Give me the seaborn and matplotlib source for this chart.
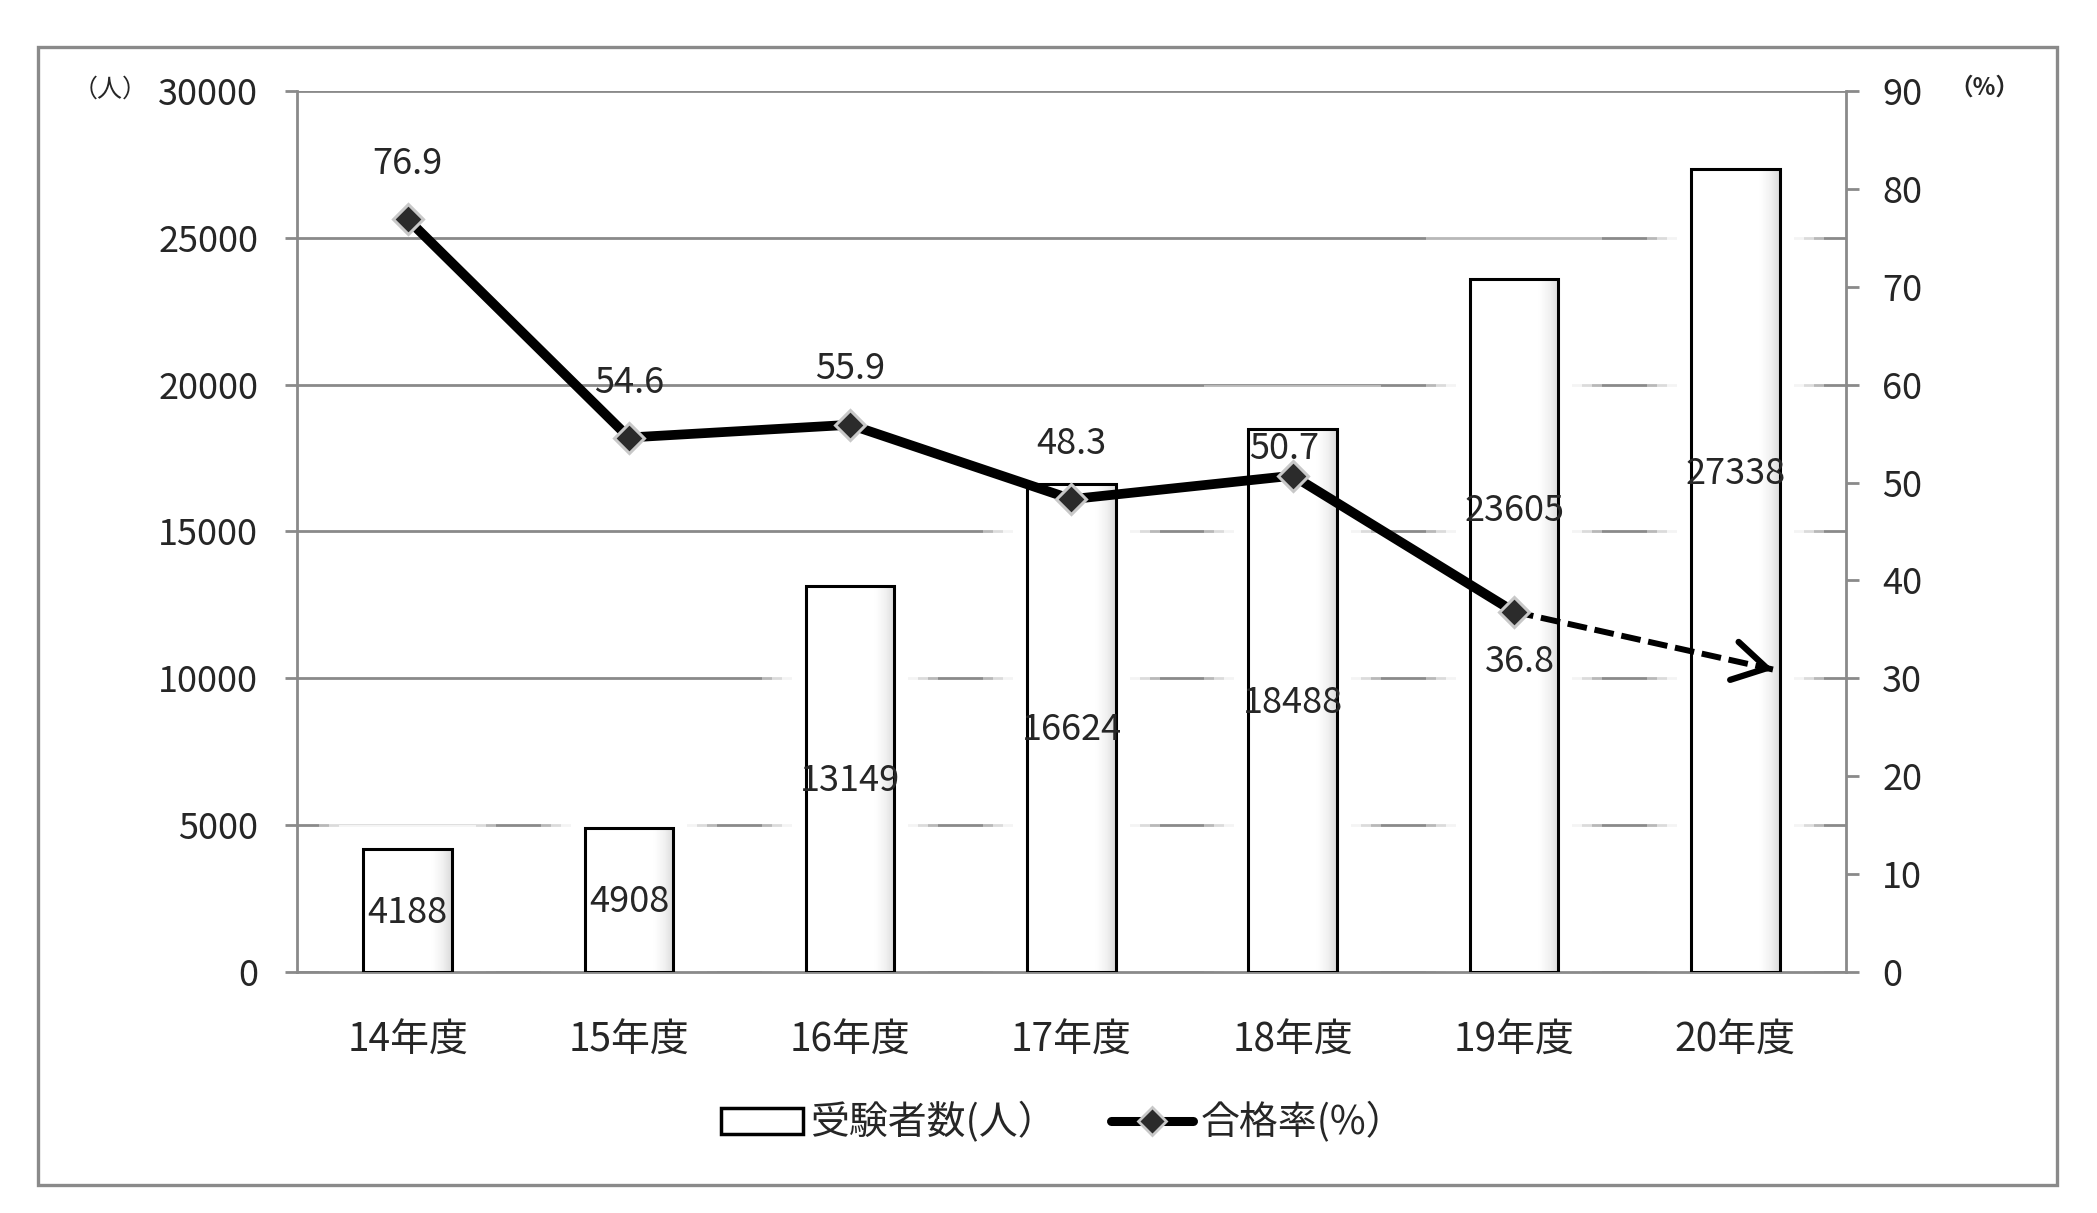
import numpy as np
import seaborn as sns
import matplotlib.pyplot as plt
from matplotlib.patches import Patch, Rectangle
from matplotlib.lines import Line2D
from matplotlib.colors import LinearSegmentedColormap

# data
years = ['14年度', '15年度', '16年度', '17年度', '18年度', '19年度', '20年度']
examinees = [4188, 4908, 13149, 16624, 18488, 23605, 27338]
pass_rate = [76.9, 54.6, 55.9, 48.3, 50.7, 36.8]
# dashed arrow: where the trend is pointing in 20年度
projected_rate = 30.9
projected_step = 1.17

# where the count labels sit inside the bars (data units, as in the original)
count_label_y = [2000, 2370, 6500, 8250, 9150, 15700, 16950]
# offsets (points) of the rate labels from their markers
rate_label_dx = [0, 0, 0, 0, -6, 4]
rate_label_dy = [40, 39, 40, 40, 19, -36]

sns.set_style("white")
plt.rcParams['font.family'] = ['Noto Sans CJK JP', 'DejaVu Sans']

grey = '#8a8a8a'
fs = 26
W, H = 2097, 1213
ax_rect = [0.1416, 0.1987, 0.7387, 0.7263]

fig = plt.figure(figsize=(W / 100, H / 100), dpi=100)
ax = fig.add_axes(ax_rect)
ax2 = ax.twinx()

# outer chart frame
fig.patches.append(Rectangle((0.0181, 0.0231), 0.9629, 0.9382, transform=fig.transFigure,
                             fill=False, edgecolor=grey, linewidth=2.4))

sns.barplot(x=years, y=examinees, ax=ax, color='white', edgecolor='black',
            linewidth=2.2, width=0.4, zorder=3)

ax.set_ylim(0, 30000)
ax.set_xlim(-0.5, 6.5)

# soft white glow round each bar (breaks the gridlines) and light shading inside
px_x = 7 / (W * ax_rect[2])
px_y = 30000 / (H * ax_rect[3])
shade = LinearSegmentedColormap.from_list(
    'shade', [(0, '#ffffff'), (0.78, '#ffffff'), (0.9, '#f1f1f1'), (1, '#dadada')])
grad = np.linspace(0, 1, 256).reshape(1, -1)
for p in ax.patches:
    x0, w, h = p.get_x(), p.get_width(), p.get_height()
    for ext, a in [(44, 0.4), (34, 0.5), (24, 0.7), (14, 1.0)]:
        ax.add_patch(Rectangle((x0 - ext * px_x, 0), w + 2 * ext * px_x, h + ext * px_y,
                               facecolor='white', edgecolor='none', alpha=a, zorder=1))
    ax.imshow(grad, cmap=shade, extent=(x0, x0 + w, 0, h), aspect='auto', zorder=2.9)
    p.set_facecolor('none')
ax.set_xlim(-0.5, 6.5)
ax.set_ylim(0, 30000)

ax.set_yticks(np.arange(0, 30001, 5000))
ax.yaxis.grid(True, color=grey, linewidth=2)
ax.set_axisbelow(True)
ax.set_xticks(range(len(years)))
ax.set_xticklabels(years)
ax.set_xticks(np.arange(-0.5, 7, 1), minor=True)
ax.tick_params(axis='x', which='major', length=0, pad=35, labelsize=28)
ax.tick_params(axis='x', which='minor', length=9, width=2, color=grey, direction='out')
ax.tick_params(axis='y', length=9, width=2, color=grey, labelsize=fs, pad=19)
ax.set_xlabel('')
ax.set_ylabel('')
for side in ['left', 'bottom']:
    ax.spines[side].set_color(grey)
    ax.spines[side].set_linewidth(2)
ax.spines['top'].set_visible(False)
ax.spines['right'].set_visible(False)

for i, (v, ly) in enumerate(zip(examinees, count_label_y)):
    ax.text(i, ly, str(v), ha='center', va='center', fontsize=fs, zorder=6)

# pass rate on the right axis
xs = np.arange(len(pass_rate))
sns.lineplot(x=xs, y=pass_rate, ax=ax2, color='black', linewidth=7, marker='D',
             markersize=15, markerfacecolor='#2b2b2b', markeredgecolor='#c8c8c8',
             markeredgewidth=2.2, zorder=5)

x_end = xs[-1] + projected_step
ax2.plot([xs[-1], x_end], [pass_rate[-1], projected_rate], color='black',
         linewidth=4.3, linestyle=(0, (3.3, 1.3)), zorder=4, solid_capstyle='butt')
back = 0.04
ax2.annotate('', xy=(x_end, projected_rate),
             xytext=(x_end - back * projected_step, projected_rate - back * (projected_rate - pass_rate[-1])),
             arrowprops=dict(arrowstyle='->,head_length=1.2,head_width=0.7', color='black',
                             linewidth=4.5, mutation_scale=20, shrinkA=0, shrinkB=0))

for i, r in enumerate(pass_rate):
    ax2.annotate(f'{r}', xy=(i, r), xytext=(rate_label_dx[i], rate_label_dy[i]),
                 textcoords='offset points', ha='center', va='center', fontsize=fs)

ax2.set_ylim(0, 90)
ax2.set_yticks(np.arange(0, 91, 10))
ax2.tick_params(axis='y', length=9, width=2, color=grey, labelsize=fs, pad=17)
ax2.spines['right'].set_color(grey)
ax2.spines['right'].set_linewidth(2)
for side in ['left', 'bottom', 'top']:
    ax2.spines[side].set_visible(False)
ax2.grid(False)

fig.text(0.0525, 0.926, '（人）', fontsize=18, ha='center', va='center')
fig.text(0.9465, 0.928, '（%）', fontsize=17, ha='center', va='center', fontweight='bold')

handles = [Patch(facecolor='white', edgecolor='black', linewidth=2.5),
           Line2D([], [], color='black', linewidth=6.5, marker='D', markersize=14,
                  markerfacecolor='#2b2b2b', markeredgecolor='#c8c8c8', markeredgewidth=2)]
fig.legend(handles, ['受験者数(人）', '合格率(%）'], loc='center', bbox_to_anchor=(0.507, 0.0742),
           ncol=2, frameon=False, fontsize=28, handlelength=2.1, handleheight=0.65,
           columnspacing=1.4, handletextpad=0.2)

fig.savefig('out.png', dpi=100, facecolor='white')
